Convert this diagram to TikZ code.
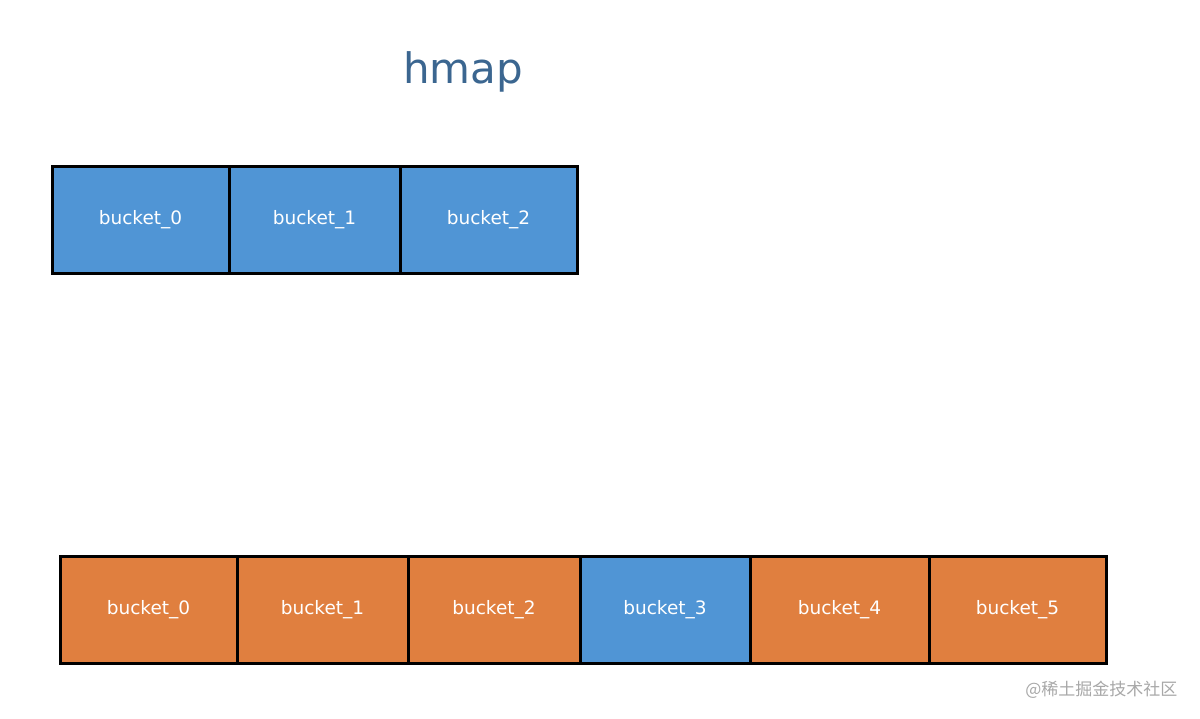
\documentclass[tikz,border=0pt]{standalone}
\usepackage{fontspec}
\setmainfont{DejaVu Sans}
\newfontfamily\cjk{Noto Sans CJK SC}
\definecolor{cellblue}{HTML}{5095D5}
\definecolor{cellorange}{HTML}{E07F3F}
\definecolor{titleblue}{HTML}{3B6690}
\definecolor{markgrey}{HTML}{A8A8A8}
\begin{document}
\begin{tikzpicture}[x=1pt,y=-1pt,
  cell/.style={draw=black,line width=3pt,minimum height=107pt,inner sep=0pt,outer sep=0pt,
    text=white,font=\fontsize{18.5}{20}\selectfont},
  bluecell/.style={cell,fill=cellblue},
  orangecell/.style={cell,fill=cellorange},
  w/.style={minimum width=#1 pt}]
\useasboundingbox (0,0) rectangle (1200,718);
\fill[white] (0,0) rectangle (1200,718);
\node[text=titleblue,font=\fontsize{42}{48}\selectfont] (title) at (463,72) {hmap};
% top row
\node[bluecell,w=177] (t0) at (140.5,219.5) {\raisebox{-2pt}{bucket\_0}};
\node[bluecell,w=171] (t1) at (314.5,219.5) {\raisebox{-2pt}{bucket\_1}};
\node[bluecell,w=177] (t2) at (488.5,219.5) {\raisebox{-2pt}{bucket\_2}};
% bottom row
\node[orangecell,w=177] (b0) at (148.5,609.5) {\raisebox{-2pt}{bucket\_0}};
\node[orangecell,w=171] (b1) at (322.5,609.5) {\raisebox{-2pt}{bucket\_1}};
\node[orangecell,w=172] (b2) at (494,609.5) {\raisebox{-2pt}{bucket\_2}};
\node[bluecell,w=170] (b3) at (665,609.5) {\raisebox{-2pt}{bucket\_3}};
\node[orangecell,w=179] (b4) at (839.5,609.5) {\raisebox{-2pt}{bucket\_4}};
\node[orangecell,w=177] (b5) at (1017.5,609.5) {\raisebox{-2pt}{bucket\_5}};
\node[text=markgrey,font=\cjk\fontsize{17}{20}\selectfont,anchor=east] (mark) at (1181,690) {@稀土掘金技术社区};
\end{tikzpicture}
\end{document}
